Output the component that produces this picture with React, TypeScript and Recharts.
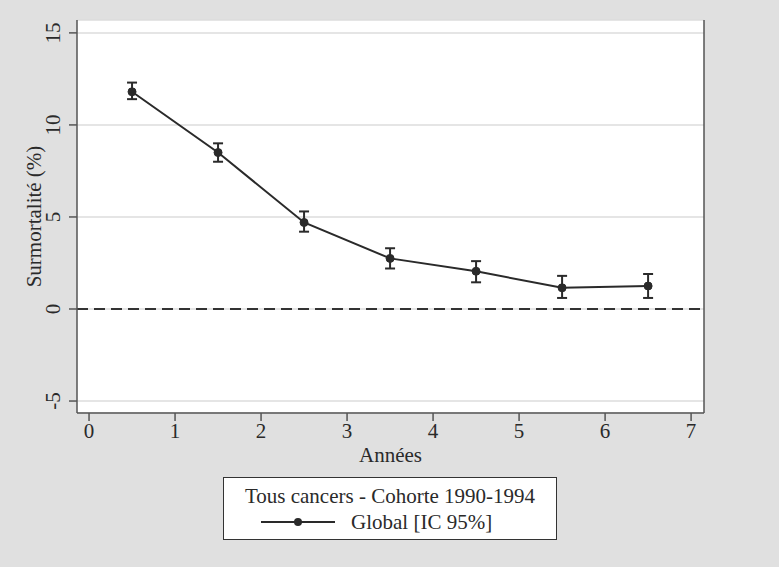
import {
  LineChart,
  Line,
  ErrorBar,
  XAxis,
  YAxis,
  CartesianGrid,
  ReferenceLine,
  Legend,
  Label
} from "recharts";

// years since diagnosis (interval midpoints)
const years = [0.5, 1.5, 2.5, 3.5, 4.5, 5.5, 6.5];
// excess mortality (%) and 95% CI bounds
const excess = [11.8, 8.5, 4.7, 2.75, 2.05, 1.15, 1.25];
const ciLow = [11.4, 8.0, 4.2, 2.2, 1.45, 0.6, 0.6];
const ciHigh = [12.3, 9.0, 5.3, 3.3, 2.6, 1.8, 1.9];

const xTicks = [0, 1, 2, 3, 4, 5, 6, 7];
const yTicks = [-5, 0, 5, 10, 15];

const legendTitle = "Tous cancers - Cohorte 1990-1994";
const seriesName = "Global [IC 95%]";

const data = years.map((year, i) => ({
  year,
  value: excess[i],
  err: [excess[i] - ciLow[i], ciHigh[i] - excess[i]]
}));

const FONT = "'Liberation Serif', 'DejaVu Serif', serif";
const FS = 21;
const INK = "#2a2a2a";
const AXIS = "#555";

const RotatedTick = ({ x, y, payload }: any) => (
  <g transform={`translate(${x - 7},${y}) rotate(-90)`}>
    <text x={0} y={0} textAnchor="middle" fill={INK} fontSize={FS} fontFamily={FONT}>
      {payload.value}
    </text>
  </g>
);

const renderLegend = () => (
  <div
    style={{
      boxSizing: "border-box",
      width: 334,
      height: 63,
      background: "#fff",
      border: "1px solid #333",
      fontFamily: FONT,
      fontSize: FS,
      lineHeight: "24px",
      color: INK,
      position: "relative"
    }}
  >
    <div style={{ position: "absolute", top: 6, left: 0, width: "100%", textAlign: "center" }}>
      {legendTitle}
    </div>
    <svg width={76} height={12} style={{ position: "absolute", left: 36, top: 38 }}>
      <line x1={1} y1={6} x2={75} y2={6} stroke={INK} strokeWidth={2} />
      <circle cx={38} cy={6} r={4} fill={INK} />
    </svg>
    <div style={{ position: "absolute", left: 127, top: 32 }}>{seriesName}</div>
  </div>
);

export default function App() {
  return (
    <div style={{ position: "absolute", left: 0, top: 0, width: 779, height: 567, background: "#e0e0e0" }}>
      <LineChart
        width={779}
        height={567}
        data={data}
        margin={{ top: 20, right: 0, left: 0, bottom: 94 }}
        style={{ fontFamily: FONT }}
      >
        <CartesianGrid
          yAxisId="left"
          vertical={false}
          fill="#fff"
          stroke="#dcdcdc"
          strokeWidth={1.5}
        />
        <XAxis
          dataKey="year"
          type="number"
          domain={[-0.14, 7.15]}
          ticks={xTicks}
          height={60}
          stroke={AXIS}
          strokeWidth={1.5}
          tickSize={8}
          tick={{ fill: INK, fontSize: FS, fontFamily: FONT }}
          allowDataOverflow
        >
          <Label
            value="Années"
            position="insideBottom"
            offset={11}
            fill={INK}
            fontSize={FS}
            fontFamily={FONT}
          />
        </XAxis>
        <YAxis
          yAxisId="left"
          type="number"
          domain={[-5.65, 15.7]}
          ticks={yTicks}
          width={77}
          stroke={AXIS}
          strokeWidth={1.5}
          tickSize={8}
          tick={<RotatedTick />}
          allowDataOverflow
        >
          <Label
            value="Surmortalité (%)"
            angle={-90}
            position="insideLeft"
            offset={34}
            textAnchor="middle"
            fill={INK}
            fontSize={FS}
            fontFamily={FONT}
          />
        </YAxis>
        <YAxis
          yAxisId="right"
          orientation="right"
          type="number"
          domain={[-5.65, 15.7]}
          ticks={[0]}
          width={75}
          stroke={AXIS}
          strokeWidth={1.5}
          tickSize={8}
          tick={false}
          allowDataOverflow
        />
        <ReferenceLine
          yAxisId="left"
          y={0}
          stroke="#333"
          strokeWidth={2}
          strokeDasharray="11 6"
        />
        <Line
          yAxisId="left"
          dataKey="value"
          name={seriesName}
          stroke={INK}
          strokeWidth={2}
          dot={{ r: 4, fill: INK, stroke: INK, strokeWidth: 1 }}
          activeDot={false}
          isAnimationActive={false}
        >
          <ErrorBar dataKey="err" direction="y" width={5} stroke={INK} strokeWidth={2} />
        </Line>
        <Legend
          layout="horizontal"
          verticalAlign="middle"
          align="center"
          content={renderLegend}
          wrapperStyle={{ position: "absolute", left: 223, top: 477, width: 334, height: 63 }}
        />
      </LineChart>
    </div>
  );
}
